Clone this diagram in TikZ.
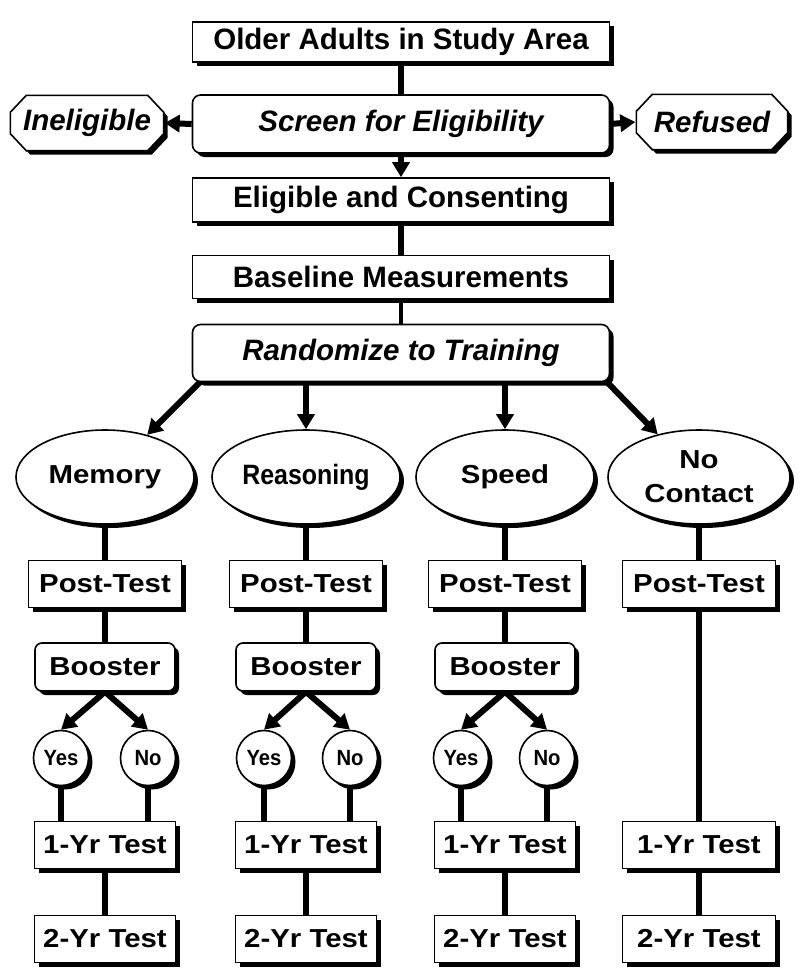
\documentclass[tikz,border=0pt]{standalone}
\usepackage{fontspec}
\setmainfont{Liberation Sans}
\newfontfamily\widesans[FakeStretch=1.13]{Liberation Sans}
\newfontfamily\narrowsans[FakeStretch=0.92]{Liberation Sans}
\newfontfamily\reasans[FakeStretch=0.89]{Liberation Sans}
\usetikzlibrary{shapes.geometric,shadows,arrows.meta,calc}
\begin{document}
\begin{tikzpicture}[x=1pt,y=-1pt,
  shad/.style={drop shadow={shadow xshift=4pt,shadow yshift=-4pt,fill=black,opacity=1}},
  shbox/.style={draw=black,line width=1.6pt,fill=white,inner sep=0pt,align=center,
    font=\fontsize{29.5}{34}\selectfont\bfseries,shad},
  lowfont/.style={font=\widesans\fontsize{26}{34}\selectfont\bfseries},
  wide/.style={shbox,rectangle,minimum width=417pt},
  rwide/.style={wide,rounded corners=8pt},
  ital/.style={font=\fontsize{29.5}{34}\selectfont\bfseries\itshape},
  octlabel/.style={rectangle,inner sep=0pt,minimum height=55pt,font=\fontsize{29.5}{34}\selectfont\bfseries\itshape},
  octline/.style={draw=black,line width=1.6pt,fill=white,shad},
  oval/.style={shbox,lowfont,ellipse,minimum width=178pt,minimum height=94pt},
  tbox/.style={shbox,lowfont,rectangle,minimum width=153pt,minimum height=47pt},
  sbox/.style={shbox,lowfont,rectangle,minimum width=141pt,minimum height=47pt},
  boost/.style={shbox,lowfont,rectangle,rounded corners=7pt,minimum width=140pt,minimum height=48pt},
  yn/.style={shbox,circle,minimum size=55pt,font=\narrowsans\fontsize{22}{26}\selectfont\bfseries},
  conn/.style={line width=6pt},
  arr/.style={line width=6pt,-{Triangle[width=17pt,length=15pt]}}
]
\fill[white] (0,0) rectangle (800,978);
\useasboundingbox (0,0) rectangle (800,978);

% top part
\node[wide,minimum height=40pt] (top) at (401,42) {Older Adults in Study Area};
\node[rwide,ital,minimum height=58pt] (screen) at (401,124) {Screen for Eligibility};
\node[octlabel,minimum width=153pt] (inel) at (87,123) {Ineligible};
\node[octlabel,minimum width=151pt] (ref) at (712,122) {Refused};
\foreach \n in {inel,ref}{
  \draw[octline] ([xshift=16pt]\n.north west) -- ([xshift=-16pt]\n.north east)
    -- ([yshift=-17pt]\n.north east) -- ([yshift=17pt]\n.south east)
    -- ([xshift=-16pt]\n.south east) -- ([xshift=16pt]\n.south west)
    -- ([yshift=17pt]\n.south west) -- ([yshift=-17pt]\n.north west) -- cycle;
}
\node[octlabel,minimum width=153pt] at (inel) {Ineligible};
\node[octlabel,minimum width=151pt] at (ref) {Refused};
\node[wide,minimum height=44pt] (elig) at (401,200) {Eligible and Consenting};
\node[wide,minimum height=43pt] (basem) at (401,277) {Baseline Measurements};
\node[rwide,ital,minimum height=57pt] (rand) at (401,353) {Randomize to Training};

% columns
\def\ca{105}\def\cb{306}\def\cc{505}\def\cd{699}
\node[oval] (mem) at (\ca,477) {Memory};
\node[oval,minimum width=188pt,font=\reasans\fontsize{28}{34}\selectfont\bfseries] (rea) at (\cb,477) {Reasoning};
\node[oval] (spd) at (\cc,477) {Speed};
\node[oval,minimum width=182pt] (nc) at (\cd,477) {No\\Contact};

\node[tbox] (pa) at (\ca,584) {Post-Test};
\node[tbox] (pb) at (\cb,584) {Post-Test};
\node[tbox] (pc) at (\cc,584) {Post-Test};
\node[tbox] (pd) at (\cd,584) {Post-Test};

\node[boost] (ba) at (\ca,667) {Booster};
\node[boost] (bb) at (\cb,667) {Booster};
\node[boost] (bc) at (\cc,667) {Booster};

\node[yn] (ya) at (61,758) {Yes};
\node[yn] (na) at (148,758) {No};
\node[yn] (yb) at (264,758) {Yes};
\node[yn] (nb) at (350,758) {No};
\node[yn] (yc) at (461,758) {Yes};
\node[yn] (nc2) at (547,758) {No};

\node[sbox] (oa) at (\ca,845) {1-Yr Test};
\node[sbox] (ob) at (\cb,845) {1-Yr Test};
\node[sbox] (oc) at (\cc,845) {1-Yr Test};
\node[tbox] (od) at (\cd,845) {1-Yr Test};

\node[sbox] (ta) at (\ca,939) {2-Yr Test};
\node[sbox] (tb) at (\cb,939) {2-Yr Test};
\node[sbox] (tc) at (\cc,939) {2-Yr Test};
\node[tbox] (td) at (\cd,939) {2-Yr Test};

% connectors top
\draw[conn] (top) -- (screen);
\draw[arr] (screen.west) -- ([xshift=1pt]inel.east);
\draw[arr] (screen.east) -- ([xshift=-1pt]ref.west);
\draw[arr] (screen) -- (elig);
\draw[conn] (elig) -- (basem);
\draw[conn,line width=4pt] (basem) -- (rand);

\draw[arr] ($(rand.south west)+(8,0)$) -- (mem);
\draw[arr] (rand.south -| rea) -- (rea);
\draw[arr] (rand.south -| spd) -- (spd);
\draw[arr] ($(rand.south east)+(-4,-1)$) -- (nc);

\foreach \o/\p in {mem/pa,rea/pb,spd/pc,nc/pd}{\draw[conn] (\o) -- (\p);}
\foreach \p/\b in {pa/ba,pb/bb,pc/bc}{\draw[conn] (\p) -- (\b);}
\foreach \b/\y/\n in {ba/ya/na,bb/yb/nb,bc/yc/nc2}{
  \draw[arr] (\b.south) -- (\y.north);
  \draw[arr] (\b.south) -- (\n.north);
}
\foreach \y/\o in {ya/oa,na/oa,yb/ob,nb/ob,yc/oc,nc2/oc}{\draw[conn] (\y.south) -- (\y.south |- \o.north);}
\draw[conn] (pd) -- (od);
\foreach \o/\t in {oa/ta,ob/tb,oc/tc,od/td}{\draw[conn] (\o) -- (\t);}
\end{tikzpicture}
\end{document}
